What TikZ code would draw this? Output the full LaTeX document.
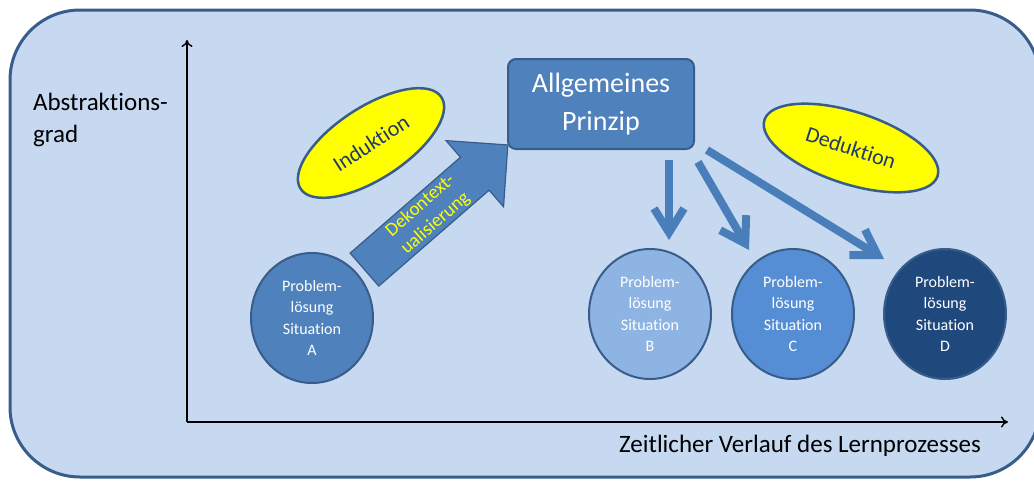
\documentclass[tikz,border=0pt]{standalone}
\usepackage{fontspec}
\setmainfont{Carlito}[Ligatures=NoCommon]
\usetikzlibrary{shapes.geometric,shapes.arrows,arrows.meta}
\definecolor{hintergrund}{HTML}{C6D9F1}
\definecolor{rahmen}{HTML}{385D8A}
\definecolor{mittelblau}{HTML}{4F81BD}
\definecolor{hellblau}{HTML}{8EB4E3}
\definecolor{kraeftigblau}{HTML}{558ED5}
\definecolor{dunkelblau}{HTML}{1F497D}
\definecolor{pfeilblau}{HTML}{4A7EBB}
\definecolor{schrift}{HTML}{1F3A6B}
\definecolor{gelb}{HTML}{FFFF00}
\begin{document}
\begin{tikzpicture}[x=1pt, y=-1pt,
        situation/.style={ellipse, draw=rahmen, line width=2pt, minimum width=122pt, minimum height=130pt,
            inner sep=0pt, text=white, align=center, font=\fontsize{16}{21.5}\selectfont},
        methode/.style={ellipse, draw=rahmen, fill=gelb, line width=2.5pt, minimum height=72pt,
            inner sep=0pt, text=schrift, font=\fontsize{22}{24}\selectfont},
        pfeil/.style={draw=pfeilblau, line width=8pt, -{Straight Barb[length=24pt, width=30pt]}},
        achse/.style={black, line width=1.4pt, -{To[length=7pt, width=11pt]}}]
    \useasboundingbox (0,0) rectangle (1034,480);
    \draw[fill=hintergrund, draw=rahmen, line width=3pt, rounded corners=70pt] (10,10) rectangle (1040,477);
        \coordinate (ursprung) at (187,422);
        \coordinate (yende) at (187,40);
        \coordinate (xende) at (1008,422);
        \draw[achse] (ursprung) -- (yende);
        \draw[achse] (ursprung) -- (xende);
        \node (ordinate) [anchor=west, align=left, inner sep=0pt, font=\fontsize{25}{32}\selectfont] at (33,120) {Abstraktions-\\grad};
        \node (abszisse) [inner sep=0pt, font=\fontsize{25}{30}\selectfont] at (800,446) {Zeitlicher Verlauf des Lernprozesses};
        \node (prinzip) [draw=rahmen, fill=mittelblau, line width=2pt, rounded corners=8pt, minimum width=186pt,
            minimum height=90pt, text=white, align=center, font=\fontsize{28}{38}\selectfont] at (601,104) {Allgemeines\\Prinzip};
        \node (situationA) [situation, fill=mittelblau] at (312,318) {Problem-\\lösung\\Situation\\A};
        \node (situationB) [situation, fill=hellblau] at (650,314) {Problem-\\lösung\\Situation\\B};
        \node (situationC) [situation, fill=kraeftigblau] at (793,314) {Problem-\\lösung\\Situation\\C};
        \node (situationD) [situation, fill=dunkelblau] at (945,314) {Problem-\\lösung\\Situation\\D};
        \node (induktion) [methode, minimum width=168pt, rotate=33] at (371,143) {Induktion};
        \node (deduktion) [methode, minimum width=182pt, rotate=-18] at (851,148) {Deduktion};
        \node (dekontext) [single arrow, draw=rahmen, fill=mittelblau, line width=1.2pt, rotate=41, anchor=tail,
            minimum height=190pt, single arrow head extend=22pt, inner xsep=4pt, inner ysep=1.5pt,
            text=gelb, align=center, font=\fontsize{19}{23}\selectfont] at (364,270) {Dekontext-\\ualisierung};
        \coordinate (spitzeB) at (669,240);
        \coordinate (spitzeC) at (749,250);
        \coordinate (spitzeD) at (884,259);
        \draw[pfeil] ([xshift=68pt, yshift=-10pt]prinzip.south) -- (spitzeB);
        \draw[pfeil] ([xshift=3pt, yshift=-12pt]prinzip.south east) -- (spitzeC);
        \draw[pfeil] ([xshift=12pt]prinzip.south east) -- (spitzeD);
\end{tikzpicture}
\end{document}
